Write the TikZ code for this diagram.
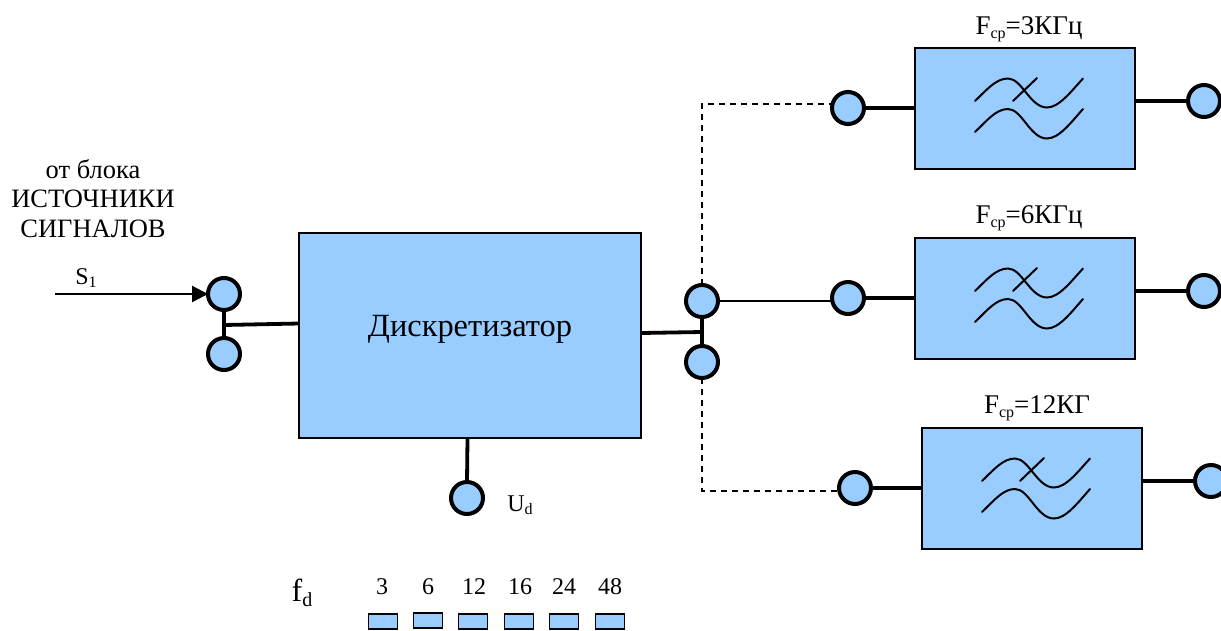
\documentclass[tikz,border=0pt]{standalone}
\usepackage{fontspec}
\setmainfont{Liberation Serif}
\usetikzlibrary{arrows.meta}
\definecolor{fillblue}{HTML}{99CCFF}
\newcommand{\lowtext}[1]{\raisebox{-0.3ex}{\fontsize{16}{16}\selectfont #1}}
\tikzset{
  x=1pt,y=-1pt,
  blockbox/.style={draw=black,line width=2.4pt,fill=fillblue,minimum width=#1,inner sep=0pt,outer sep=0pt},
  port/.style={circle,draw=black,line width=4pt,fill=fillblue,minimum size=32pt,inner sep=0pt,outer sep=0pt},
  tab/.style={draw=black,line width=1.9pt,fill=fillblue,minimum width=29pt,minimum height=15pt,inner sep=0pt,outer sep=0pt},
  thick wire/.style={line width=3.8pt},
  thin wire/.style={line width=1.8pt},
  dash wire/.style={line width=1.6pt,dash pattern=on 6pt off 5pt},
  label/.style={inner sep=0pt,font=\fontsize{26.5}{26.5}\selectfont,text=black},
  freq/.style={inner sep=0pt,font=\fontsize{27}{27}\selectfont,text=black},
  numlabel/.style={inner sep=0pt,font=\fontsize{24}{24}\selectfont,text=black},
  wave/.pic={
    \draw[line width=2pt,line cap=round] (-50,-7.5) .. controls (-38,-19) and (-29,-30) .. (-17,-30)
       .. controls (-3,-30) and (5,-1) .. (22,-1) .. controls (34,-1) and (46,-17) .. (58,-30);
    \draw[line width=2pt,line cap=round] (-50,23.5) .. controls (-38,12) and (-29,0.5) .. (-17,0.5)
       .. controls (-3,0.5) and (5,30) .. (22,30) .. controls (34,30) and (46,14) .. (58,0.5);
    \draw[line width=2pt,line cap=round] (-12,-7.5) -- (12,-30.5);
  }
}
\begin{document}
\begin{tikzpicture}
\useasboundingbox (0,0) rectangle (1221,630);
% blocks
\node[blockbox=342pt,minimum height=205pt] (main) at (470,335.5) {};
\node[label,font=\fontsize{32.4}{32.4}\selectfont] (maintxt) at (470,329) {Дискретизатор};
\node[blockbox=220pt,minimum height=121pt] (f1) at (1025,108.5) {};
\node[blockbox=220pt,minimum height=121pt] (f2) at (1025,298.5) {};
\node[blockbox=220pt,minimum height=121pt] (f3) at (1032,488.5) {};
\pic at (f1.center) {wave};
\pic at (f2.center) {wave};
\pic at (f3.center) {wave};
% ports
\node[port] (in1) at (224,294) {};
\node[port] (in2) at (224,354) {};
\node[port] (out1) at (702,301) {};
\node[port] (out2) at (702,362) {};
\node[port] (ud) at (467,498) {};
\node[port] (f1in) at (848,108) {};
\node[port] (f1out) at (1204,101) {};
\node[port] (f2in) at (848,298) {};
\node[port] (f2out) at (1204,291) {};
\node[port] (f3in) at (855,488) {};
\node[port] (f3out) at (1211,481) {};
% coordinates
\coordinate (src) at (55,294);
\coordinate (injoin) at (224,325);
\coordinate (inmain) at (299,323.5);
\coordinate (outmain) at (641,333);
\coordinate (outjoin) at (702,332);
\coordinate (mainbot) at (467.5,438);
\coordinate (c1) at (702,104);
\coordinate (c2) at (702,491);
\coordinate (d1) at (833,104);
\coordinate (d2) at (839,491);
% connectors
\draw[line width=2.4pt,-{Triangle[length=16pt,width=16pt]}] (src) -- (in1.west);
\draw[thick wire] (in1) -- (in2);
\draw[thick wire] (injoin) -- (inmain);
\draw[thick wire] (outmain) -- (outjoin);
\draw[thick wire] (out1) -- (out2);
\draw[thick wire] (mainbot) -- (ud.north);
\draw[thin wire] (out1.east) -- (f2in.west |- out1.east);
\draw[dash wire] (out1.north) -- (c1) -- (d1);
\draw[dash wire] (out2.south) -- (c2) -- (d2);
\draw[thick wire] (f1in.east) -- (f1.west |- f1in.east);
\draw[thick wire] (f2in.east) -- (f2.west |- f2in.east);
\draw[thick wire] (f3in.east) -- (f3.west |- f3in.east);
\draw[thick wire] (f1.east |- f1out.west) -- (f1out.west);
\draw[thick wire] (f2.east |- f2out.west) -- (f2out.west);
\draw[thick wire] (f3.east |- f3out.west) -- (f3out.west);
% labels
\node[label] (t1) at (93,169) {от блока};
\node[label] (t2) at (93,199) {ИСТОЧНИКИ};
\node[label] (t3) at (93,229) {СИГНАЛОВ};
\node[numlabel] (s1) at (86,278) {S\lowtext{1}};
\node[numlabel] (udl) at (520,505) {U\lowtext{d}};
\node[freq] (fc1) at (1029,29) {F\lowtext{ср}=3КГц};
\node[freq] (fc2) at (1029,218) {F\lowtext{ср}=6КГц};
\node[freq] (fc3) at (1037,408) {F\lowtext{ср}=12КГ};
\node[label,font=\fontsize{32}{32}\selectfont] (fd) at (302,593) {f\lowtext{\fontsize{20}{20}\selectfont d}};
% tabs
\foreach \n/\xa/\ya/\v/\xb in {a/383/621.5/3/382,b/428/620.5/6/428,c/473/621.5/12/474,d/519/621.5/16/520,e/564/621.5/24/564,f/610/621.5/48/610}{
  \node[tab] (tab\n) at (\xa,\ya) {};
  \node[numlabel] (val\n) at (\xb,587) {\v};
}
\end{tikzpicture}
\end{document}
